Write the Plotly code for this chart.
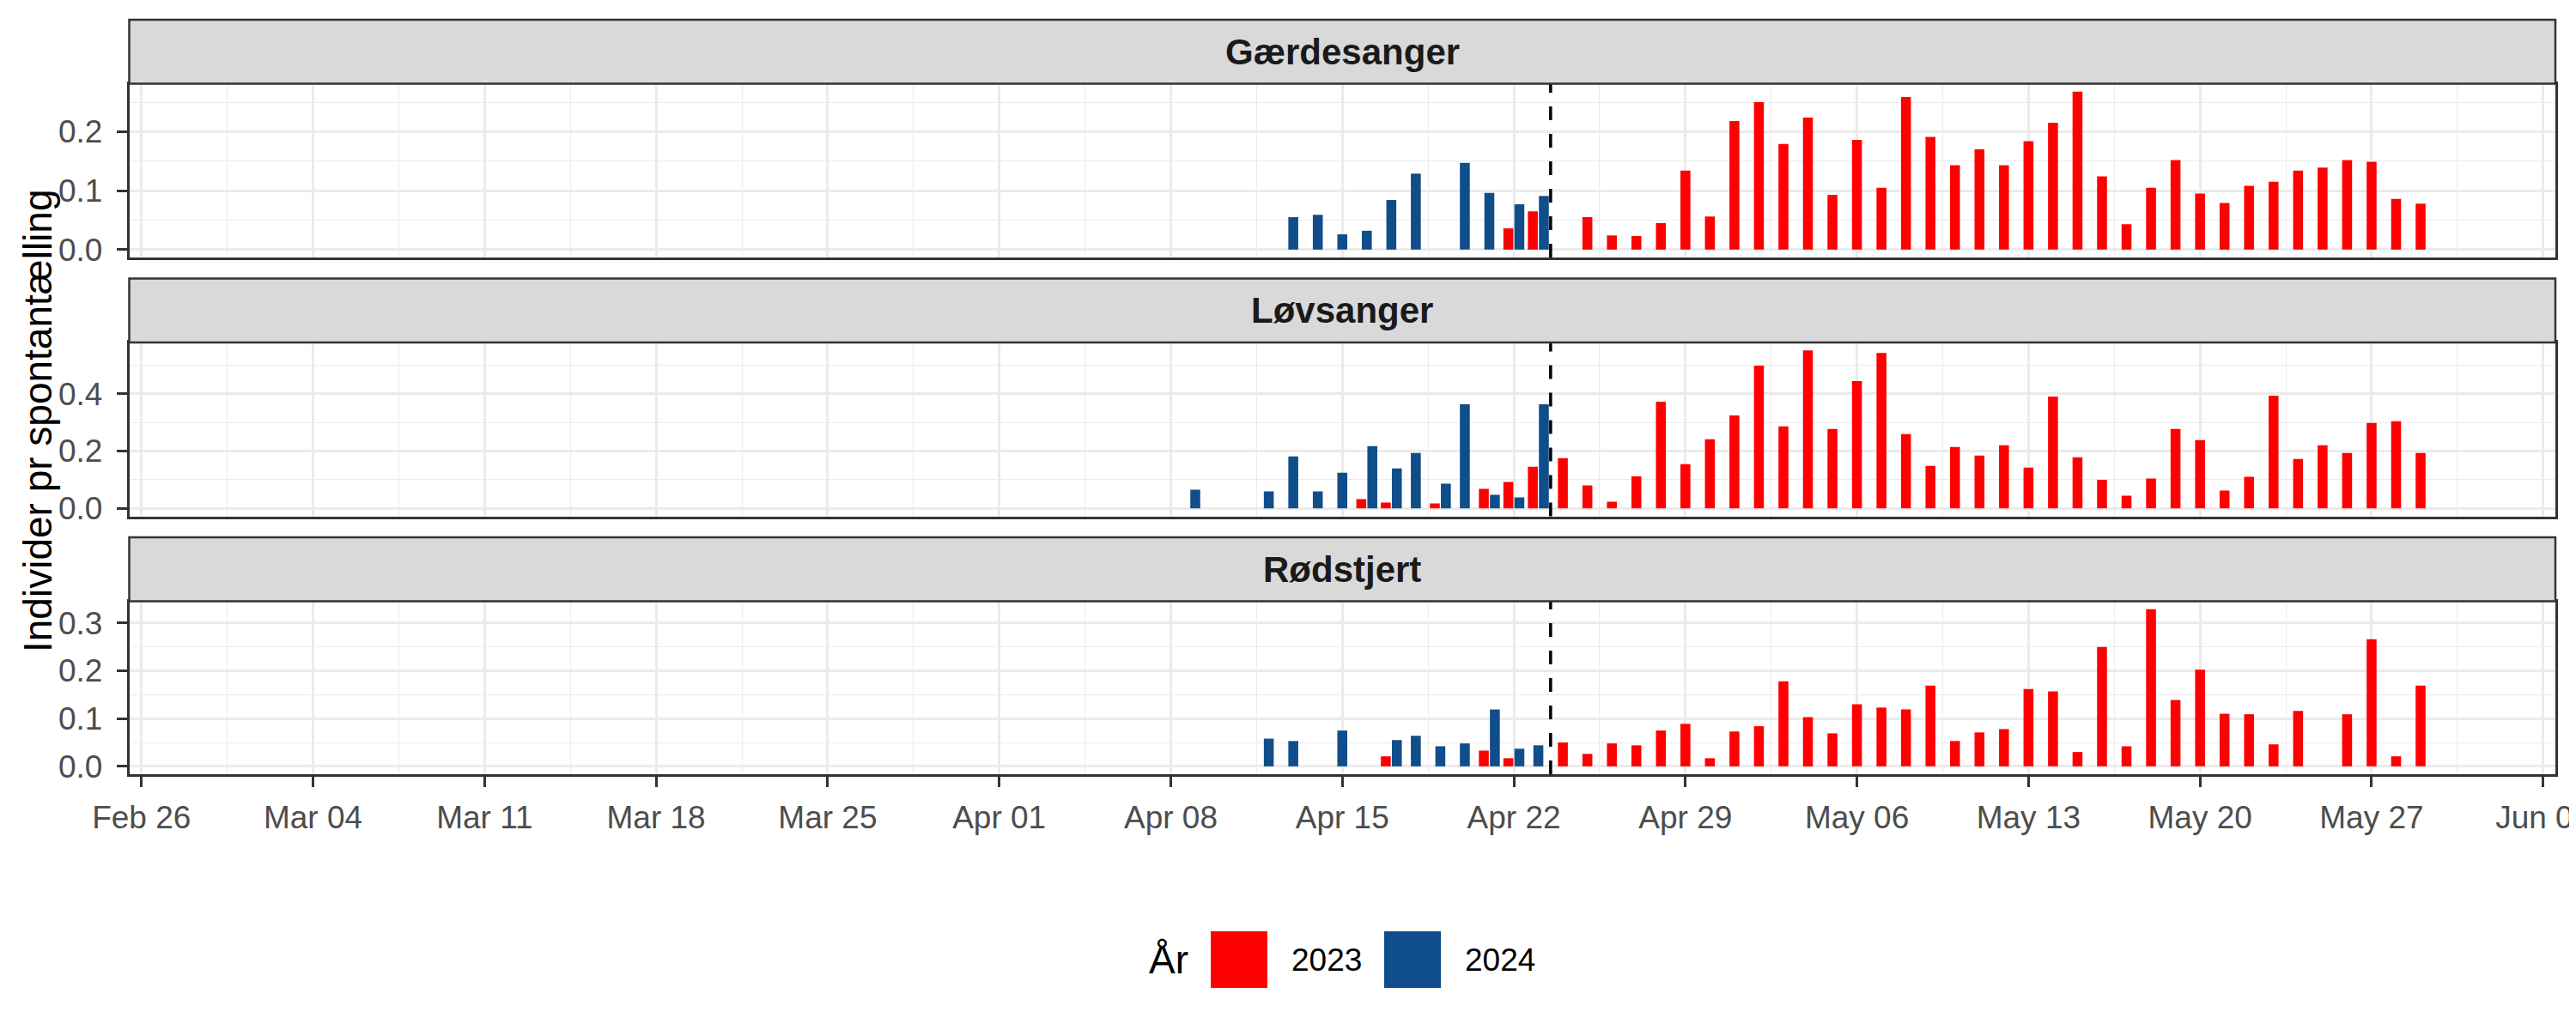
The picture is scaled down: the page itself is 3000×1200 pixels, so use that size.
import plotly.graph_objects as go

# ---------------- data ----------------
AXIS_YEAR = "2024"            # common display year for the date axis
cutoff_date = "2024-04-23 12:00"

species = ["Gærdesanger", "Løvsanger", "Rødstjert"]
years = ["2023", "2024"]
year_colors = ["#FF0000", "#104E8B"]
y_title = "Individer pr spontantælling"
legend_title = "År"

gaerd_2023_dates = ["04-22", "04-23", "04-25", "04-26", "04-27", "04-28", "04-29", "04-30",
                    "05-01", "05-02", "05-03", "05-04", "05-05", "05-06", "05-07", "05-08",
                    "05-09", "05-10", "05-11", "05-12", "05-13", "05-14", "05-15", "05-16",
                    "05-17", "05-18", "05-19", "05-20", "05-21", "05-22", "05-23", "05-24",
                    "05-25", "05-26", "05-27", "05-28", "05-29"]
gaerd_2023_vals = [0.036, 0.065, 0.055, 0.024, 0.023, 0.045, 0.134, 0.056,
                   0.218, 0.250, 0.179, 0.224, 0.093, 0.186, 0.105, 0.259,
                   0.191, 0.143, 0.170, 0.143, 0.184, 0.215, 0.268, 0.124,
                   0.043, 0.105, 0.152, 0.095, 0.079, 0.108, 0.115, 0.134,
                   0.139, 0.152, 0.149, 0.086, 0.078]
gaerd_2024_dates = ["04-13", "04-14", "04-15", "04-16", "04-17", "04-18", "04-20", "04-21",
                    "04-22", "04-23"]
gaerd_2024_vals = [0.055, 0.059, 0.026, 0.032, 0.084, 0.129, 0.147, 0.096, 0.077, 0.091]

lovs_2023_dates = ["04-16", "04-17", "04-19", "04-21", "04-22", "04-23", "04-24", "04-25",
                   "04-26", "04-27", "04-28", "04-29", "04-30", "05-01", "05-02", "05-03",
                   "05-04", "05-05", "05-06", "05-07", "05-08", "05-09", "05-10", "05-11",
                   "05-12", "05-13", "05-14", "05-15", "05-16", "05-17", "05-18", "05-19",
                   "05-20", "05-21", "05-22", "05-23", "05-24", "05-25", "05-26", "05-27",
                   "05-28", "05-29"]
lovs_2023_vals = [0.032, 0.020, 0.017, 0.068, 0.092, 0.145, 0.175, 0.080,
                  0.023, 0.112, 0.372, 0.154, 0.241, 0.324, 0.498, 0.286,
                  0.551, 0.277, 0.444, 0.542, 0.259, 0.148, 0.214, 0.184,
                  0.220, 0.142, 0.390, 0.178, 0.100, 0.044, 0.104, 0.277,
                  0.238, 0.062, 0.110, 0.393, 0.172, 0.220, 0.193, 0.298,
                  0.304, 0.193]
lovs_2024_dates = ["04-09", "04-12", "04-13", "04-14", "04-15", "04-16", "04-17", "04-18",
                   "04-19", "04-20", "04-21", "04-22", "04-23"]
lovs_2024_vals = [0.065, 0.059, 0.181, 0.059, 0.124, 0.217, 0.139, 0.193,
                  0.086, 0.363, 0.047, 0.038, 0.363]

rods_2023_dates = ["04-17", "04-21", "04-22", "04-24", "04-25", "04-26", "04-27", "04-28",
                   "04-29", "04-30", "05-01", "05-02", "05-03", "05-04", "05-05", "05-06",
                   "05-07", "05-08", "05-09", "05-10", "05-11", "05-12", "05-13", "05-14",
                   "05-15", "05-16", "05-17", "05-18", "05-19", "05-20", "05-21", "05-22",
                   "05-23", "05-24", "05-26", "05-27", "05-28", "05-29"]
rods_2023_vals = [0.021, 0.033, 0.017, 0.050, 0.026, 0.048, 0.044, 0.075,
                  0.089, 0.017, 0.073, 0.084, 0.178, 0.103, 0.069, 0.130,
                  0.123, 0.119, 0.169, 0.053, 0.071, 0.078, 0.162, 0.157,
                  0.030, 0.250, 0.042, 0.329, 0.139, 0.202, 0.110, 0.109,
                  0.046, 0.116, 0.109, 0.266, 0.021, 0.169]
rods_2024_dates = ["04-12", "04-13", "04-15", "04-17", "04-18", "04-19", "04-20", "04-21",
                   "04-22", "04-23"]
rods_2024_vals = [0.058, 0.053, 0.075, 0.055, 0.064, 0.042, 0.048, 0.119, 0.037, 0.044]

y_dticks = [0.1, 0.2, 0.1]

series = {
    "Gærdesanger": [(gaerd_2023_dates, gaerd_2023_vals), (gaerd_2024_dates, gaerd_2024_vals)],
    "Løvsanger": [(lovs_2023_dates, lovs_2023_vals), (lovs_2024_dates, lovs_2024_vals)],
    "Rødstjert": [(rods_2023_dates, rods_2023_vals), (rods_2024_dates, rods_2024_vals)],
}

# ---------------- layout constants (pixels of the 3000x1200 window) ----------------
W, H = 3000, 1200
PAGE_OFF = 8          # default body margin of the html page
FONT = "Liberation Sans, Arial, sans-serif"
DAY = 86400000
BAR_W = 0.405 * DAY
PANEL_L, PANEL_R = 150.5, 2976
plot_tops = [97.5, 399.0, 700.5]
plot_bottoms = [300.0, 601.5, 902.0]
strip_tops = [23.0, 324.5, 626.0]
LINE_C = "#333333"
GRID_C = "#EBEBEB"


def fx(px):
    return (px - PAGE_OFF) / W


def fy(py):
    return 1 - (py - PAGE_OFF) / H


def to_axis_date(md):
    return f"{AXIS_YEAR}-{md}"


def dodge_offsets(dates, other_dates, slot):
    other = set(other_dates)
    out = []
    for d in dates:
        if d in other:
            out.append(-0.4275 * DAY if slot == 0 else 0.0225 * DAY)
        else:
            out.append(-0.2025 * DAY)
    return out


fig = go.Figure()
shapes = []
annotations = []
x_range = ["2024-02-25 12:00", "2024-06-03 12:00"]

for i, sp in enumerate(species):
    xa = "x" if i == 0 else f"x{i + 1}"
    ya = "y" if i == 0 else f"y{i + 1}"
    (d0, v0), (d1, v1) = series[sp]
    for k, (dates, vals) in enumerate(series[sp]):
        other_dates = series[sp][1 - k][0]
        fig.add_trace(go.Bar(
            x=[to_axis_date(d) for d in dates], y=vals,
            width=[BAR_W] * len(dates),
            offset=dodge_offsets(dates, other_dates, k),
            marker=dict(color=year_colors[k], line=dict(width=0)),
            name=years[k], showlegend=False,
            xaxis=xa, yaxis=ya,
        ))
    ymax = max(max(v0), max(v1))
    bottom = (i == len(species) - 1)
    xkey = "xaxis" if i == 0 else f"xaxis{i + 1}"
    ykey = "yaxis" if i == 0 else f"yaxis{i + 1}"
    fig.layout[xkey] = dict(
        domain=[fx(PANEL_L), fx(PANEL_R)], anchor=ya, type="date",
        range=x_range, tick0="2024-02-26", dtick=7 * DAY,
        tickformat="%b %d", showticklabels=bottom,
        ticks="outside" if bottom else "", ticklen=12, tickwidth=2.5, tickcolor=LINE_C,
        tickfont=dict(family=FONT, size=37, color="#4D4D4D"),
        ticklabelstandoff=4, automargin=False, ticklabeloverflow="allow",
        showgrid=True, gridcolor=GRID_C, gridwidth=2.5,
        minor=dict(tick0="2024-02-26", dtick=3.5 * DAY, showgrid=True,
                   gridcolor=GRID_C, gridwidth=1.3, ticks=""),
        showline=True, mirror=True, linecolor=LINE_C, linewidth=2.5,
        zeroline=False,
        **({} if i == 0 else {"matches": "x"}),
    )
    fig.layout[ykey] = dict(
        domain=[fy(plot_bottoms[i]), fy(plot_tops[i])], anchor=xa,
        range=[-0.05 * ymax, 1.05 * ymax], tick0=0, dtick=y_dticks[i],
        tickformat=".1f", ticks="outside", ticklen=12, tickwidth=2.5, tickcolor=LINE_C,
        tickfont=dict(family=FONT, size=37, color="#4D4D4D"),
        ticklabelstandoff=9, automargin=False,
        showgrid=True, gridcolor=GRID_C, gridwidth=2.5,
        minor=dict(tick0=0, dtick=y_dticks[i] / 2, showgrid=True,
                   gridcolor=GRID_C, gridwidth=1.3, ticks=""),
        showline=True, mirror=True, linecolor=LINE_C, linewidth=2.5,
        zeroline=False,
    )
    # dashed cutoff line
    shapes.append(dict(
        type="line", xref=xa, yref=f"{ya} domain", x0=cutoff_date, x1=cutoff_date,
        y0=0, y1=1, line=dict(color="black", width=3.5, dash="16px,16px"), layer="above",
    ))
    # strip
    shapes.append(dict(
        type="rect", xref="paper", yref="paper",
        x0=fx(PANEL_L), x1=fx(PANEL_R), y0=fy(plot_tops[i]), y1=fy(strip_tops[i]),
        fillcolor="#D9D9D9", line=dict(color=LINE_C, width=2.5), layer="above",
    ))
    annotations.append(dict(
        text=f"<b>{sp}</b>", xref="paper", yref="paper",
        x=fx((PANEL_L + PANEL_R) / 2), y=fy((strip_tops[i] + plot_tops[i]) / 2),
        xanchor="center", yanchor="middle", showarrow=False,
        font=dict(family=FONT, size=42, color="#1A1A1A"),
    ))

# y-axis title
annotations.append(dict(
    text=y_title, xref="paper", yref="paper", x=fx(44), y=fy(490),
    xanchor="center", yanchor="middle", textangle=-90, showarrow=False,
    font=dict(family=FONT, size=46, color="black"),
))

# legend (drawn manually to get ggplot-size keys)
LEG_Y0, LEG_Y1 = 1085, 1151
key_x0 = [1410, 1612]
KEY = 66
annotations.append(dict(
    text=legend_title, xref="paper", yref="paper", x=fx(1336), y=fy((LEG_Y0 + LEG_Y1) / 2),
    xanchor="left", yanchor="middle", showarrow=False,
    font=dict(family=FONT, size=46, color="black"),
))
for k, yr in enumerate(years):
    shapes.append(dict(
        type="rect", xref="paper", yref="paper",
        x0=fx(key_x0[k]), x1=fx(key_x0[k] + KEY), y0=fy(LEG_Y1), y1=fy(LEG_Y0),
        fillcolor=year_colors[k], line=dict(width=0),
    ))
    annotations.append(dict(
        text=yr, xref="paper", yref="paper", x=fx(key_x0[k] + KEY + 26),
        y=fy((LEG_Y0 + LEG_Y1) / 2), xanchor="left", yanchor="middle", showarrow=False,
        font=dict(family=FONT, size=37, color="black"),
    ))

fig.update_layout(
    width=W, height=H, margin=dict(l=0, r=0, t=0, b=0, autoexpand=False),
    paper_bgcolor="white", plot_bgcolor="white",
    barmode="overlay", showlegend=False,
    shapes=shapes, annotations=annotations,
    font=dict(family=FONT),
)

fig.write_html("out.html")
